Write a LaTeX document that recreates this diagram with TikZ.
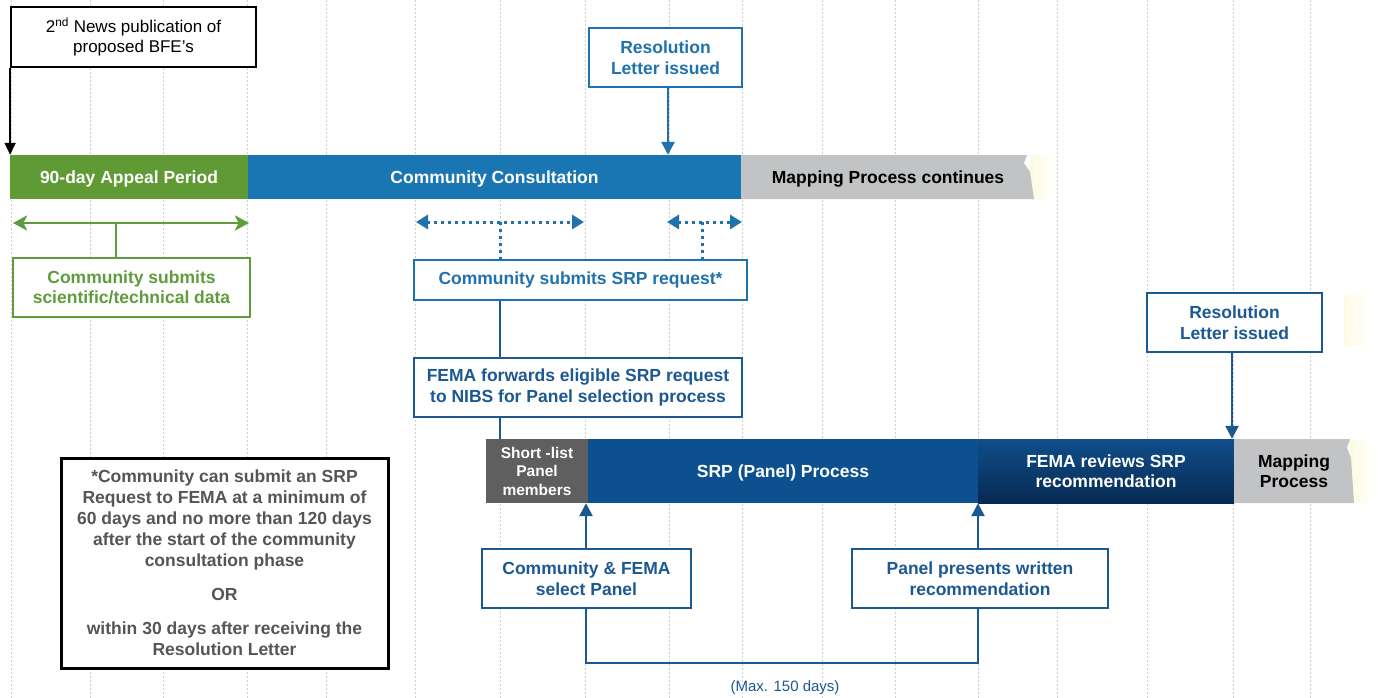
\documentclass[tikz,border=0pt]{standalone}
\usepackage{fontspec}
\setmainfont{Liberation Sans}
\usetikzlibrary{arrows.meta}
\definecolor{greenbar}{RGB}{95,154,52}
\definecolor{greentxt}{RGB}{96,155,60}
\definecolor{bluebar}{RGB}{26,118,179}
\definecolor{lblue}{RGB}{31,114,172}
\definecolor{dblue}{RGB}{28,88,145}
\definecolor{srpbar}{RGB}{12,80,143}
\definecolor{fematop}{RGB}{16,78,138}
\definecolor{femabot}{RGB}{6,42,82}
\definecolor{shortgray}{RGB}{95,95,96}
\definecolor{graybar}{RGB}{194,195,197}
\definecolor{notegray}{RGB}{85,85,85}
\definecolor{gridgray}{RGB}{208,208,208}
\definecolor{yfade}{RGB}{254,250,225}
\newcommand\mybf{\fontsize{17.5}{20.5}\selectfont\bfseries}
\newcommand\mysmallbf{\fontsize{15.5}{18.5}\selectfont\bfseries}
\newcommand\mynote{\fontsize{17.5}{21}\selectfont\bfseries}
\tikzset{
  gridline/.style={draw=gridgray, line width=0.8pt, dash pattern=on 2pt off 2pt},
  bartxt/.style={font=\mybf, text=white, inner sep=0pt, align=center, text depth=0pt},
  boxbase/.style={draw, fill=white, line width=2.2pt, inner sep=0pt, align=center, font=\mybf},
  greenbox/.style={boxbase, draw=greentxt, text=greentxt},
  lbox/.style={boxbase, draw=lblue, text=lblue},
  dbox/.style={boxbase, draw=dblue, text=dblue},
  blackbox/.style={boxbase, draw=black, text=black, line width=1.8pt, font=\fontsize{17}{20.5}\selectfont},
  notebox/.style={boxbase, draw=black, text=notegray, line width=3pt, font=\mynote},
  garrow/.style={draw=greentxt, line width=2.6pt, {Stealth[length=14pt,width=15pt,inset=3.5pt]}-{Stealth[length=14pt,width=15pt,inset=3.5pt]}},
  gline/.style={draw=greentxt, line width=2.6pt},
  darrow/.style={draw=lblue, line width=3pt, dash pattern=on 3pt off 4pt, {Triangle[length=12pt,width=14pt]}-{Triangle[length=12pt,width=14pt]}},
  dline/.style={draw=lblue, line width=3pt, dash pattern=on 3pt off 4pt},
  lbarrow/.style={draw=lblue, line width=2.6pt, -{Triangle[length=13pt,width=13pt]}},
  dbarrow/.style={draw=dblue, line width=2.6pt, -{Triangle[length=13pt,width=13pt]}},
  dbline/.style={draw=dblue, line width=2.4pt},
  karrow/.style={draw=black, line width=1.8pt, -{Triangle[length=12pt,width=11pt]}}
}
\begin{document}
\begin{tikzpicture}[x=1pt,y=-1pt]
\useasboundingbox (0,0) rectangle (1378,698);
\fill[white] (0,0) rectangle (1378,698);
% grid
\foreach \gx in {11,90,163,247,326,415,500,585,669,742,822,895,978,1057,1147,1233,1310}
  \draw[gridline] (\gx,0) -- (\gx,698);
% faint fades
\shade[left color=yfade, right color=white] (1030,155) rectangle (1056,199);
\shade[left color=yfade, right color=white] (1350,440) rectangle (1376,502);
\shade[left color=yfade, right color=white] (1344,295) rectangle (1370,345);
% top bar
\node[bartxt, fill=greenbar, minimum width=238pt, minimum height=44pt] (appeal) at (129,177) {90-day Appeal Period};
\node[bartxt, fill=bluebar, minimum width=493pt, minimum height=44pt] (consult) at (494.5,177) {Community Consultation};
\fill[graybar] (741,155) -- (1027,155) -- (1024,163) -- (1030,172) -- (1034,199) -- (741,199) -- cycle;
\node[bartxt, text=black] (mapa) at (888,177) {Mapping Process continues};
% lower bar
\node[bartxt, fill=shortgray, minimum width=102pt, minimum height=64pt, font=\mysmallbf, text depth=] (short) at (537,471) {Short -list\\Panel\\members};
\node[bartxt, fill=srpbar, minimum width=390pt, minimum height=64pt] (srp) at (783,471) {SRP (Panel) Process};
\shade[top color=fematop, bottom color=femabot] (978,439) rectangle (1234,503);
\node[bartxt, minimum width=256pt, minimum height=64pt] (fema) at (1106,471) {FEMA reviews SRP\\recommendation};
\fill[graybar] (1234,439) -- (1350,439) -- (1347,448) -- (1351,458) -- (1354,503) -- (1234,503) -- cycle;
\node[bartxt, text=black] (mapb) at (1294,471) {Mapping\\Process};
% boxes
\node[blackbox, minimum width=245pt, minimum height=60pt] (news) at (133.5,37) {2\textsuperscript{nd} News publication of\\proposed BFE’s};
\node[greenbox, minimum width=237pt, minimum height=59pt] (gbox) at (131.5,287.5) {Community submits\\scientific/technical data};
\node[lbox, minimum width=153pt, minimum height=59pt] (res1) at (665.5,57.5) {Resolution\\Letter issued};
\node[lbox, minimum width=333pt, minimum height=40pt] (srpreq) at (580.5,280) {Community submits SRP request*};
\node[dbox, minimum width=328pt, minimum height=59pt] (fwd) at (578,387.5) {FEMA forwards eligible SRP request\\to NIBS for Panel selection process};
\node[dbox, minimum width=175pt, minimum height=59pt] (res2) at (1234.5,322.5) {Resolution\\Letter issued};
\node[dbox, minimum width=209pt, minimum height=59pt] (select) at (586.5,578.5) {Community \& FEMA\\select Panel};
\node[dbox, minimum width=256pt, minimum height=59pt] (present) at (980,578.5) {Panel presents written\\recommendation};
\node[notebox, minimum width=327pt, minimum height=210pt] (note) at (224.5,563) {*Community can submit an SRP\\Request to FEMA at a minimum of\\60 days and no more than 120 days\\after the start of the community\\consultation phase\\[13pt]OR\\[13pt]within 30 days after receiving the\\Resolution Letter};
\node[font=\fontsize{15}{18}\selectfont, text=dblue, inner sep=0pt] (maxd) at (785,688) {(Max. 150 days)};
% helper coordinates
\coordinate (ga1) at (13,223);
\coordinate (ga2) at (249,223);
\coordinate (gm) at (116,223);
\coordinate (d1a) at (416,222);
\coordinate (d1b) at (584,222);
\coordinate (d2a) at (667,222);
\coordinate (d2b) at (742,222);
\coordinate (v1) at (500,222);
\coordinate (v2) at (702,222);
\coordinate (sx) at (500,0);
\coordinate (rx1) at (668,0);
\coordinate (rx2) at (1232,0);
\coordinate (ax1) at (586,0);
\coordinate (ax2) at (978,0);
\coordinate (by) at (0,663);
% connectors
\draw[karrow] (news.south west) -- (news.south west |- appeal.north);
\draw[garrow] (ga1) -- (ga2);
\draw[gline] (gm) -- (gm |- gbox.north);
\draw[darrow] (d1a) -- (d1b);
\draw[darrow] (d2a) -- (d2b);
\draw[dline] (v1) -- (v1 |- srpreq.north);
\draw[dline] (v2) -- (v2 |- srpreq.north);
\draw[lbarrow] (rx1 |- res1.south) -- (rx1 |- consult.north);
\draw[dbline] (sx |- srpreq.south) -- (sx |- fwd.north);
\draw[dbline] (sx |- fwd.south) -- (sx |- short.north);
\draw[dbarrow] (rx2 |- res2.south) -- (rx2 |- fema.north);
\draw[dbarrow] (ax1 |- select.north) -- (ax1 |- srp.south);
\draw[dbarrow] (ax2 |- present.north) -- (ax2 |- srp.south);
\draw[dbline] (ax1 |- select.south) -- (ax1 |- by) -- (ax2 |- by) -- (ax2 |- present.south);
\end{tikzpicture}
\end{document}
